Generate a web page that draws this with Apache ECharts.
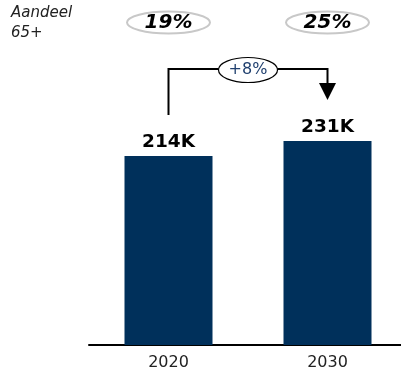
<!DOCTYPE html>
<html>
<head>
<meta charset="utf-8">
<script src="https://cdn.jsdelivr.net/npm/echarts@6/dist/echarts.min.js"></script>
<style>
html,body{margin:0;padding:0;background:#fff;}
#main{width:401px;height:372px;}
</style>
</head>
<body>
<div id="main"></div>
<script>
var years = ['2020', '2030'];
var inwoners = [214, 231];
var aandeel65 = ['19%', '25%'];
var groei = '+8%';
var shareLabel = 'Aandeel\n65+';

var myChart = echarts.init(document.getElementById('main'));
var font = '"DejaVu Sans", Verdana, sans-serif';

option = {
    animation: false,
    grid: {
        left: 89,
        width: 318,
        top: 80,
        bottom: 27,
        outerBoundsMode: 'none',
        containLabel: false
    },
    xAxis: {
        type: 'category',
        data: years,
        axisLine: { lineStyle: { color: '#000', width: 2 } },
        axisTick: { show: false },
        axisLabel: { color: '#222', fontSize: 16, fontFamily: font, margin: 10 }
    },
    yAxis: {
        type: 'value',
        min: 0,
        max: 300,
        show: false
    },
    series: [
        {
            type: 'bar',
            data: inwoners,
            barWidth: 88,
            itemStyle: { color: '#00305b' },
            label: {
                show: true,
                position: 'top',
                distance: 4,
                formatter: function (p) { return p.value + 'K'; },
                color: '#000',
                fontSize: 18.5,
                fontWeight: 'bold',
                fontFamily: font
            }
        }
    ]
};
myChart.setOption(option);

// annotations placed from the axis positions
var p0 = myChart.convertToPixel({ gridIndex: 0 }, [0, 0]);
var p1 = myChart.convertToPixel({ gridIndex: 0 }, [1, 0]);
var x0 = p0[0], x1 = p1[0];
var lineY = 69;
var midX = (x0 + x1) / 2;

var graphics = [
    {
        type: 'text', left: 11, top: 3,
        style: { text: shareLabel, fill: '#222', font: 'italic 15px ' + font, lineHeight: 20 }
    },
    {
        type: 'polyline',
        shape: { points: [[x0, 115], [x0, lineY], [x1, lineY], [x1, 86]] },
        style: { stroke: '#000', lineWidth: 2, fill: null }
    },
    {
        type: 'polygon',
        shape: { points: [[x1 - 8.5, 83], [x1 + 8.5, 83], [x1, 100]] },
        style: { fill: '#000' }
    },
    {
        type: 'ellipse',
        shape: { cx: midX, cy: lineY + 1, rx: 29.5, ry: 12.5 },
        style: { fill: '#fff', stroke: '#000', lineWidth: 1.2 }
    },
    {
        type: 'text', x: midX, y: lineY + 1,
        style: { text: groei, fill: '#1f3f6e', font: '16px ' + font, align: 'center', verticalAlign: 'middle' }
    }
];
[x0, x1].forEach(function (x, i) {
    graphics.push({
        type: 'ellipse',
        shape: { cx: x, cy: 22.5, rx: 41.5, ry: 11 },
        style: { fill: '#fff', stroke: '#c8c8c8', lineWidth: 2 }
    });
    graphics.push({
        type: 'text', x: x, y: 23,
        style: { text: aandeel65[i], fill: '#000', font: 'italic bold 20px ' + font, align: 'center', verticalAlign: 'middle' }
    });
});
myChart.setOption({ graphic: graphics });
</script>
</body>
</html>
